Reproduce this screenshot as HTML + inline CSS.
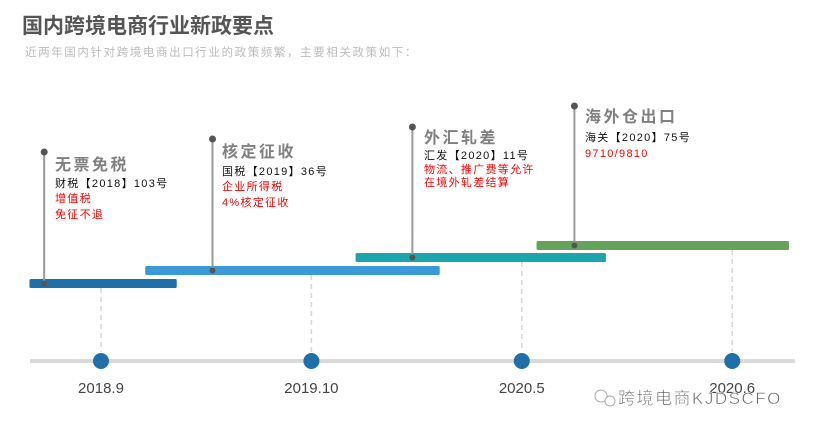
<!DOCTYPE html>
<html><head><meta charset="utf-8">
<style>
html,body{margin:0;padding:0;background:#fff;}
body{width:814px;height:434px;overflow:hidden;font-family:"Liberation Sans","Noto Sans CJK SC",sans-serif;}
svg text{font-family:"Liberation Sans","Noto Sans CJK SC",sans-serif;}
.et{font-size:16px;font-weight:bold;fill:#808080;letter-spacing:2.5px;}
.el{font-size:11px;letter-spacing:1.3px;}
</style></head>
<body>
<svg id="chart" width="814" height="434" xmlns="http://www.w3.org/2000/svg">
<text x="22" y="33" font-size="21" font-weight="bold" fill="#555">国内跨境电商行业新政要点</text>
<text x="25" y="56" font-size="11.5" fill="#bbb" letter-spacing="1.6">近两年国内针对跨境电商出口行业的政策频繁，主要相关政策如下：</text>
<rect x="30" y="359" width="765" height="4" fill="#d9d9d9"/>
<g id="marks"></g>
<g>
<text class="et" x="55" y="170">无票免税</text>
<text class="el" x="55" y="187" fill="#111">财税【2018】103号</text>
<text class="el" x="55" y="202" fill="#f00">增值税</text>
<text class="el" x="55" y="218" fill="#f00">免征不退</text>
</g>
<g>
<text class="et" x="222" y="157">核定征收</text>
<text class="el" x="222" y="175" fill="#111">国税【2019】36号</text>
<text class="el" x="222" y="190" fill="#f00">企业所得税</text>
<text class="el" x="222" y="206" fill="#f00">4%核定征收</text>
</g>
<g>
<text class="et" x="424" y="143">外汇轧差</text>
<text class="el" x="424" y="159" fill="#111">汇发【2020】11号</text>
<text class="el" x="424" y="173" fill="#f00">物流、推广费等允许</text>
<text class="el" x="424" y="186" fill="#f00">在境外轧差结算</text>
</g>
<g>
<text class="et" x="585" y="122">海外仓出口</text>
<text class="el" x="585" y="141" fill="#111">海关【2020】75号</text>
<text class="el" x="585" y="157" fill="#f00">9710/9810</text>
</g>
<g>
<circle cx="601" cy="396" r="6" fill="none" stroke="#aaa" stroke-width="1"/>
<circle cx="610" cy="401" r="5" fill="#fff" stroke="#aaa" stroke-width="1"/>
<text x="618" y="404" font-size="17" fill="#666" letter-spacing="1.5" stroke="#fff" stroke-width="0.5">跨境电商KJDSCFO</text>
</g>
</svg>
<script>
const tickLabels=["2018.9","2019.10","2020.5","2020.6"];
const barStart=[-0.34,0.21,1.21,2.07];
const barEnd=[0.36,1.61,2.40,3.27];
const pinPos=[-0.27,0.53,1.48,2.25];
const pinTop=[152,139,127,106];
const barColors=["#1f70a8","#3a9ad9","#1aa6aa","#65a25a"];
const barY=[279,266,253,241];
const ns="http://www.w3.org/2000/svg";
function xScale(v){return 101+v*210.4;}
const g=document.getElementById("marks");
function mk(tag,attrs){const e=document.createElementNS(ns,tag);for(const k in attrs)e.setAttribute(k,attrs[k]);g.appendChild(e);return e;}
tickLabels.forEach((t,i)=>{
  const x=xScale(i);
  const d=mk("line",{x1:x,x2:x,y1:barY.reduce((m,y,j)=>(xScale(barStart[j])<x&&xScale(barEnd[j])>x)?y+9:m,275),y2:352,stroke:"#d6d6d6","stroke-width":1.5,"stroke-dasharray":"5,4"});
  
  
  const c=mk("circle",{cx:x,cy:361,r:8,fill:"#1f70a8"});
  
  
  const tx=mk("text",{x:x,y:393,"font-size":15,fill:"#444","text-anchor":"middle"});
  tx.textContent=t;
  
  
});
barStart.forEach((s,i)=>{
  const x0=xScale(s),x1=xScale(barEnd[i]);
  const r=mk("rect",{x:x0,y:barY[i],width:x1-x0,height:9,rx:1.5,fill:barColors[i]});
  
  
  const px=xScale(pinPos[i]);
  const l=mk("line",{x1:px,x2:px,y1:pinTop[i],y2:barY[i]+4.5,stroke:"#999","stroke-width":2});
  
  
  const t=mk("circle",{cx:px,cy:pinTop[i],r:3.5,fill:"#555"});
  
  
  const b=mk("circle",{cx:px,cy:barY[i]+4.5,r:3,fill:"#555"});
  
  
});
</script>
</body></html>
